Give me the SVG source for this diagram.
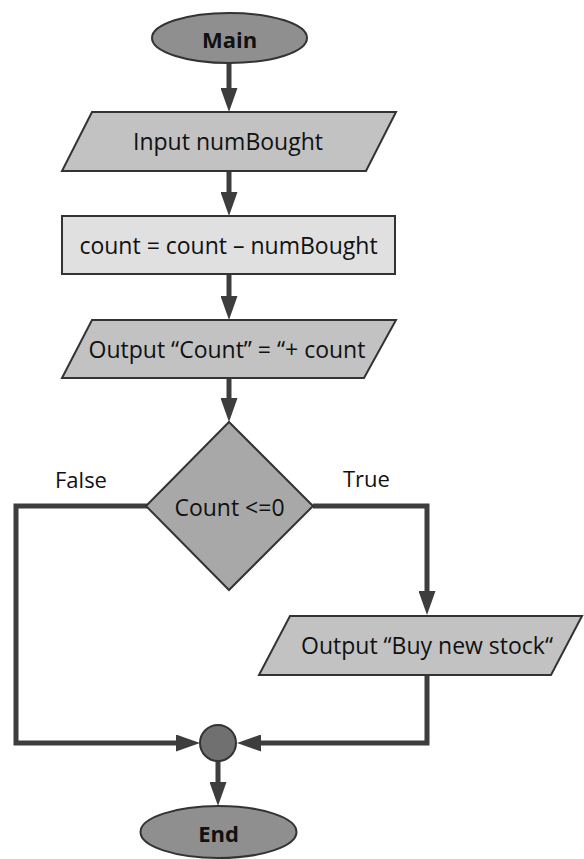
<svg xmlns="http://www.w3.org/2000/svg" width="584" height="859" viewBox="0 0 584 859">
  <style>
    .shape { stroke: #333333; stroke-width: 2; }
    .term { fill: #8f8f8f; }
    .io { fill: #c2c2c2; }
    .proc { fill: #e0e0e0; }
    .dec { fill: #a8a8a8; }
    .merge { fill: #707070; }
    .label { font-family: "Open Sans", "Noto Sans", sans-serif; font-size: 23px; fill: #111111; text-anchor: middle; dominant-baseline: central; }
    .bold { font-weight: bold; font-size: 22px; }
    .side { font-family: "Open Sans", "Noto Sans", sans-serif; font-size: 22px; fill: #111111; }
    .flow { fill: none; stroke: #3d3d3d; stroke-width: 5; stroke-linejoin: miter; stroke-linecap: butt; }
  </style>
  <defs>
    <marker id="arrow" viewBox="0 0 24 17" refX="0" refY="8.5" markerWidth="24" markerHeight="17" markerUnits="userSpaceOnUse" orient="auto">
      <path d="M0,0 L24,8.5 L0,17 z" fill="#3d3d3d"/>
    </marker>
  </defs>

  <rect width="584" height="859" fill="#ffffff"/>

  <!-- connectors -->
  <g id="connectors">
    <path class="flow" d="M229,63 V88" marker-end="url(#arrow)"/>
    <path class="flow" d="M229,171 V192" marker-end="url(#arrow)"/>
    <path class="flow" d="M229,274 V296" marker-end="url(#arrow)"/>
    <path class="flow" d="M229,378 V398" marker-end="url(#arrow)"/>
    <path class="flow" d="M313,506 H427 V591" marker-end="url(#arrow)"/>
    <path class="flow" d="M147,506 H16 V743 H176" marker-end="url(#arrow)"/>
    <path class="flow" d="M427,675 V743 H261" marker-end="url(#arrow)"/>
    <path class="flow" d="M218,761 V782" marker-end="url(#arrow)"/>
    <text class="side" x="55" y="488">False</text>
    <text class="side" x="343" y="487">True</text>
  </g>

  <!-- nodes -->
  <g id="main">
    <ellipse class="shape term" cx="229.5" cy="38" rx="77.5" ry="25"/>
    <text class="label bold" x="229.5" y="39">Main</text>
  </g>

  <g id="input">
    <polygon class="shape io" points="92,112 396,112 366,171 62,171"/>
    <text class="label" x="228" y="141">Input numBought</text>
  </g>

  <g id="update">
    <rect class="shape proc" x="62" y="216" width="333" height="58"/>
    <text class="label" x="228.5" y="245">count = count – numBought</text>
  </g>

  <g id="output-count">
    <polygon class="shape io" points="92,320 396,320 364,378 62,378"/>
    <text class="label" x="227" y="349">Output “Count” = “+ count</text>
  </g>

  <g id="decision">
    <polygon class="shape dec" points="229,422 313,506 229,590 146,506"/>
    <text class="label" x="229.5" y="507">Count &lt;=0</text>
  </g>

  <g id="output-stock">
    <polygon class="shape io" points="290,616 582,616 551,675 259,675"/>
    <text class="label" x="427" y="645">Output “Buy new stock“</text>
  </g>

  <g id="join">
    <circle class="shape merge" cx="218" cy="743" r="18"/>
  </g>

  <g id="end">
    <ellipse class="shape term" cx="218.5" cy="832" rx="78" ry="26"/>
    <text class="label bold" x="218.5" y="833">End</text>
  </g>
</svg>
